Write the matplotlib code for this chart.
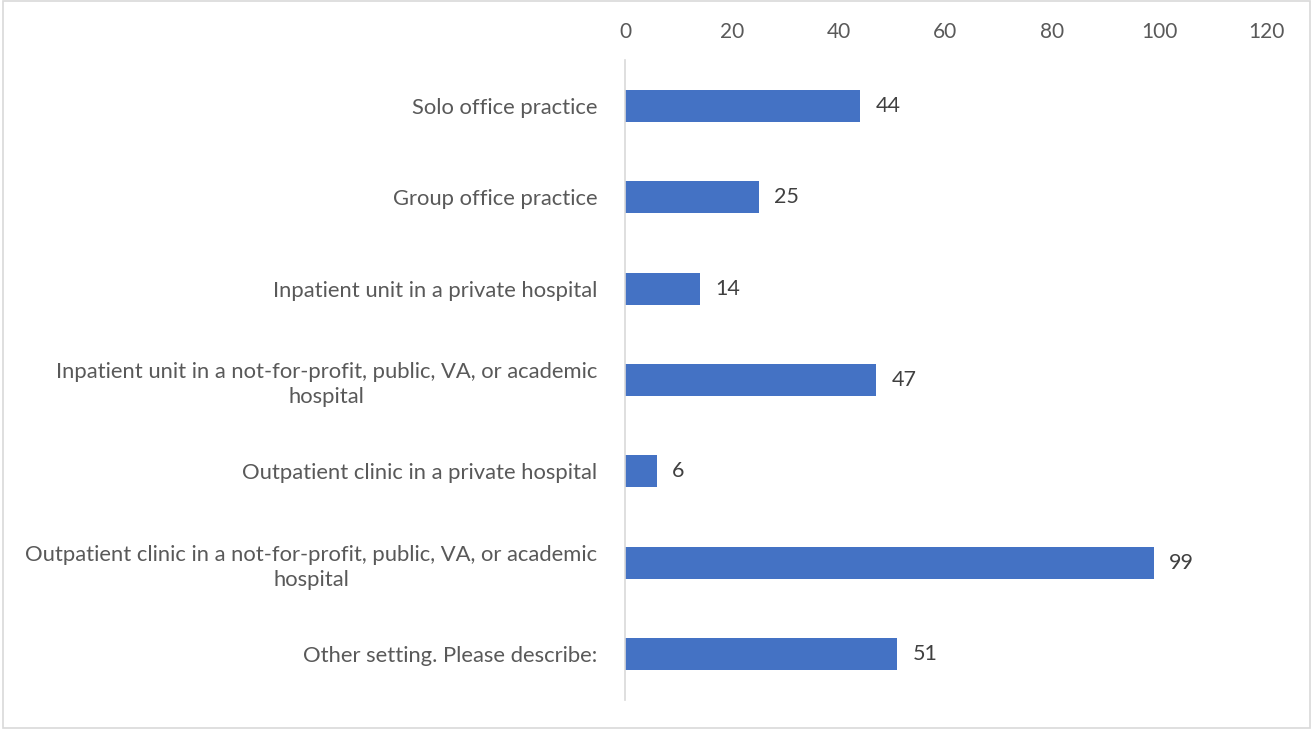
import matplotlib.pyplot as plt
from matplotlib.patches import Rectangle

# practice settings, top to bottom
settings = [
    "Solo office practice",
    "Group office practice",
    "Inpatient unit in a private hospital",
    "Inpatient unit in a not-for-profit, public, VA, or academic\nhospital",
    "Outpatient clinic in a private hospital",
    "Outpatient clinic in a not-for-profit, public, VA, or academic\nhospital",
    "Other setting. Please describe:",
]
counts = [44, 25, 14, 47, 6, 99, 51]
xticks = [0, 20, 40, 60, 80, 100, 120]

plt.rcParams['font.family'] = ['Lato', 'DejaVu Sans']

fig = plt.figure(figsize=(13.13, 7.29), dpi=100)
ax = fig.add_axes([0.476, 0.0398, 0.9642 - 0.476, 0.9177 - 0.0398])

ypos = list(range(len(settings)))
ax.barh(ypos, counts, height=0.35, color='#4472C4')
ax.set_ylim(len(settings) - 0.5, -0.5)
ax.set_xlim(0, 120)

ax.set_xticks(xticks)
ax.xaxis.tick_top()
ax.tick_params(axis='x', length=0, pad=13, labelsize=15, labelcolor='#595959')
ax.tick_params(axis='y', length=0, pad=20, labelsize=15.8, labelcolor='#595959')
ax.set_yticks(ypos)
ax.set_yticklabels(settings, multialignment='center', linespacing=1.3)

for side in ['top', 'right', 'bottom']:
    ax.spines[side].set_visible(False)
ax.spines['left'].set_color('#D9D9D9')
ax.spines['left'].set_linewidth(1.2)

for y, v in zip(ypos, counts):
    ax.annotate(str(v), (v, y), xytext=(11, 0), textcoords='offset points',
                va='center', ha='left', fontsize=15.5, color='#404040')

# light frame around the whole chart
fig.patches.append(Rectangle((0.002, 0.002), 0.996, 0.996, transform=fig.transFigure,
                             fill=False, edgecolor='#D9D9D9', linewidth=1.2))

fig.savefig('out.png', dpi=100)
